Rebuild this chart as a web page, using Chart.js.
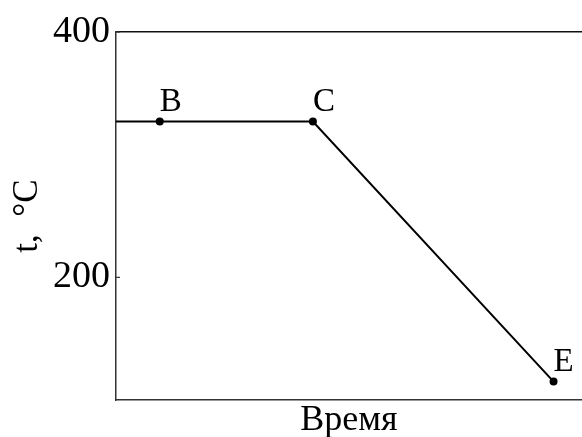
<!DOCTYPE html>
<html>
<head>
<meta charset="utf-8">
<script src="https://cdn.jsdelivr.net/npm/chart.js@4.4.1/dist/chart.umd.min.js"></script>
<style>
  html, body { margin: 0; padding: 0; background: #fff; overflow: hidden; }
  #wrap { width: 582px; height: 437px; position: relative; }
</style>
</head>
<body>
<div id="wrap"><canvas id="chart"></canvas></div>
<script>
// время (условные единицы) и температура, °C
const timePoints = [0, 1, 4.5, 10];
const tempValues = [327, 327, 327, 115];
const pointNames = ['', 'B', 'C', 'E'];
const yTickValues = [200, 400];

const FONT = "'Liberation Serif', 'DejaVu Serif', serif";

// подписи точек и внутренние риски оси Y
const extrasPlugin = {
    id: 'extras',
    afterDatasetsDraw(chart) {
        const ctx = chart.ctx;
        const xs = chart.scales.x;
        const ys = chart.scales.y;
        ctx.save();
        ctx.fillStyle = '#000';
        ctx.font = '33px ' + FONT;
        ctx.textAlign = 'left';
        ctx.textBaseline = 'alphabetic';
        pointNames.forEach((name, i) => {
            if (!name) return;
            const px = xs.getPixelForValue(timePoints[i]);
            const py = ys.getPixelForValue(tempValues[i]);
            ctx.fillText(name, px, py - 11);
        });
        ctx.strokeStyle = '#333';
        ctx.lineWidth = 1.2;
        yTickValues.forEach(v => {
            const py = ys.getPixelForValue(v);
            ctx.beginPath();
            ctx.moveTo(xs.left, py);
            ctx.lineTo(xs.left + 4, py);
            ctx.stroke();
        });
        ctx.restore();
    }
};

new Chart(document.getElementById('chart'), {
    type: 'line',
    data: {
        datasets: [{
            data: timePoints.map((t, i) => ({ x: t, y: tempValues[i] })),
            borderColor: '#000',
            borderWidth: 2,
            backgroundColor: '#000',
            pointRadius: pointNames.map(n => n ? 3 : 0),
            pointHoverRadius: 0,
            tension: 0
        }]
    },
    options: {
        responsive: true,
        maintainAspectRatio: false,
        animation: false,
        events: [],
        layout: { autoPadding: false, padding: { top: 32, right: 0, left: 0, bottom: 0 } },
        plugins: { legend: { display: false }, tooltip: { enabled: false } },
        scales: {
            x: {
                type: 'linear',
                min: 0,
                max: 10.65,
                grid: { display: false, drawTicks: false },
                border: { display: true, color: '#333', width: 1.5 },
                ticks: { display: false },
                title: {
                    display: true,
                    text: 'Время',
                    color: '#000',
                    font: { family: FONT, size: 36, lineHeight: 1.0 },
                    padding: { top: 0, bottom: -2 }
                },
                afterFit(scale) { scale.height = 37; }
            },
            xTop: {
                type: 'linear',
                position: 'top',
                min: 0,
                max: 10.65,
                grid: { display: false, drawTicks: false },
                border: { display: true, color: '#111', width: 1.5 },
                ticks: { display: false },
                afterFit(scale) { scale.height = 0; }
            },
            y: {
                type: 'linear',
                min: 100,
                max: 400,
                grid: { display: false, drawTicks: false },
                border: { display: true, color: '#333', width: 1.5 },
                afterBuildTicks(scale) {
                    scale.ticks = yTickValues.map(v => ({ value: v }));
                },
                ticks: {
                    color: '#000',
                    padding: 6,
                    font: { family: FONT, size: 38 }
                },
                title: {
                    display: true,
                    text: 't,  °C',
                    color: '#000',
                    font: { family: FONT, size: 35, lineHeight: 1.0 },
                    padding: { top: 10, bottom: 0 }
                },
                afterFit(scale) { scale.width = 116; }
            }
        }
    },
    plugins: [extrasPlugin]
});
</script>
</body>
</html>
